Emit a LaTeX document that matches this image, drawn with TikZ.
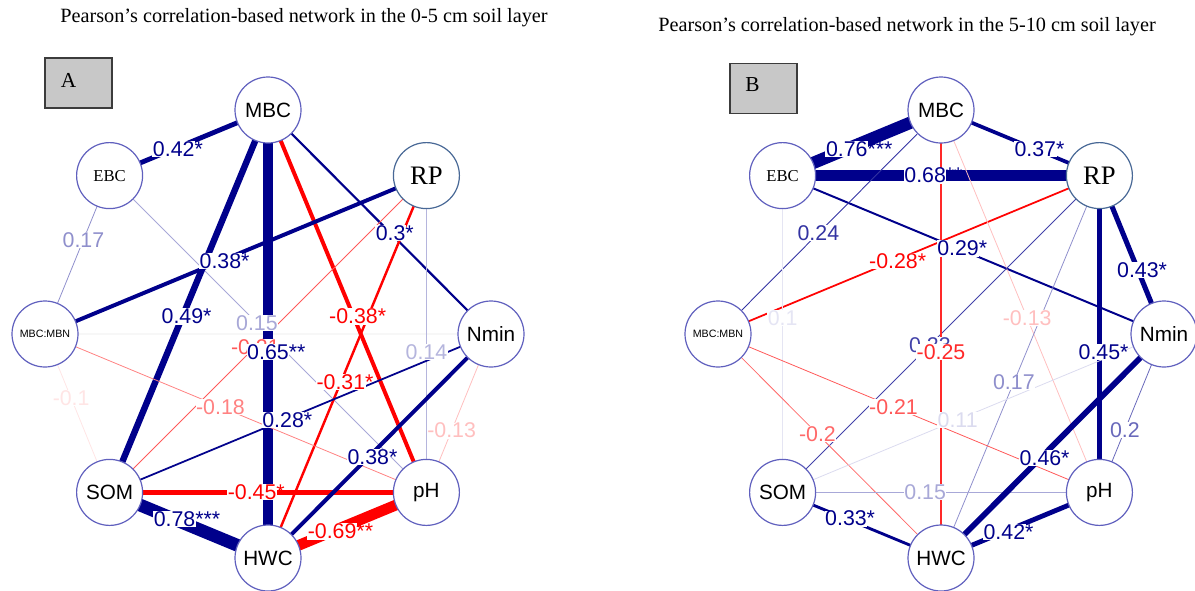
\documentclass[tikz,border=0pt]{standalone}
\usepackage{fontspec}
\setmainfont{Liberation Serif}
\newfontfamily\lsans{Liberation Sans}
\usetikzlibrary{calc}
\definecolor{posc}{RGB}{0,0,139}
\definecolor{negc}{RGB}{255,0,0}
\definecolor{nodeb}{RGB}{96,96,190}
\definecolor{rpb}{RGB}{72,104,150}
\definecolor{boxfill}{RGB}{200,200,200}
\definecolor{boxline}{RGB}{60,60,60}
\pgfdeclarelayer{edges}
\pgfdeclarelayer{labels}
\pgfsetlayers{edges,labels,main}
\tikzset{
  var/.style={circle, draw=nodeb, line width=0.9pt, fill=white, minimum size=49.5pt, inner sep=0pt, font=\lsans\fontsize{15.5}{15.5}\selectfont},
  ebcnode/.style={var, font=\fontsize{12.5}{12.5}\selectfont},
  rpnode/.style={var, draw=rpb, font=\fontsize{20}{20}\selectfont},
  mmnode/.style={var, font=\lsans\fontsize{8}{8}\selectfont},
  elabel/.style={fill=white, inner sep=0.4pt, font=\lsans\fontsize{16}{16}\selectfont},
  title/.style={font=\fontsize{15.2}{15.2}\selectfont, inner sep=0pt},
  panelbox/.style={draw=boxline, fill=boxfill, line width=0.8pt, minimum width=50.25pt, minimum height=37.5pt, inner sep=0pt},
  panelletter/.style={font=\fontsize{16}{16}\selectfont, inner sep=0pt},
}
\newcommand\edg[7]{%
  \pgfmathtruncatemacro\ea{min(100,max(8,100*(#3-0.08)/0.2))}%
  \pgfmathsetmacro\ew{0.75*max(0.8,22*(#3-0.2))}%
  \colorlet{ecol}{#4!\ea!white}%
  \begin{pgfonlayer}{edges}
    \draw[draw=ecol, line width=\ew pt] (#1.center) -- coordinate[pos=#7] (lab) (#2.center);
  \end{pgfonlayer}
  \begin{pgfonlayer}{labels}
    \node[elabel, text=ecol] at (lab) {#5\rlap{#6}};
  \end{pgfonlayer}}
\begin{document}
\begin{tikzpicture}[x=0.75pt, y=-0.75pt]
\useasboundingbox (0,0) rectangle (1195,590);
% titles and panel boxes
\node[title] (titleA) at (304,18) {Pearson’s correlation-based network in the 0-5 cm soil layer};
\node[title] (titleB) at (907,27) {Pearson’s correlation-based network in the 5-10 cm soil layer};
\node[panelbox] (boxA) at (78.5,83) {};
\node[panelletter] (letA) at (68.5,80) {A};
\node[panelbox] (boxB) at (763.5,88.5) {};
\node[panelletter] (letB) at (752.5,85) {B};
% panel A nodes
\node[var] (aMBC) at (268,110) {MBC};
\node[rpnode] (aRP) at (426.4,175.6) {RP};
\node[var] (aNmin) at (491,334) {Nmin};
\node[var] (apH) at (426.4,492.4) {pH};
\node[var] (aHWC) at (268,558) {HWC};
\node[var] (aSOM) at (109.6,492.4) {SOM};
\node[mmnode] (aMM) at (45,334) {MBC:MBN};
\node[ebcnode] (aEBC) at (109.6,175.6) {EBC};
% panel B nodes
\node[var] (bMBC) at (941,110) {MBC};
\node[rpnode] (bRP) at (1099.4,175.6) {RP};
\node[var] (bNmin) at (1164,334) {Nmin};
\node[var] (bpH) at (1099.4,492.4) {pH};
\node[var] (bHWC) at (941,558) {HWC};
\node[var] (bSOM) at (782.6,492.4) {SOM};
\node[mmnode] (bMM) at (718,334) {MBC:MBN};
\node[ebcnode] (bEBC) at (782.6,175.6) {EBC};
% panel A edges
\begin{pgfonlayer}{edges}
  \draw[draw=black!3, line width=2pt] (aMM.center) -- (aNmin.center);
\end{pgfonlayer}
\edg{aEBC}{aMBC}{0.42}{posc}{0.42}{*}{0.405}
\edg{aEBC}{aMM}{0.17}{posc}{0.17}{}{0.405}
\edg{aEBC}{apH}{0.15}{posc}{0.15}{}{0.465}
\edg{aMBC}{aSOM}{0.49}{posc}{0.49}{*}{0.54}
\edg{aMBC}{apH}{0.38}{negc}{-0.38}{*}{0.54}
\edg{aMBC}{aNmin}{0.30}{posc}{0.3}{*}{0.55}
\edg{aRP}{aMM}{0.38}{posc}{0.38}{*}{0.54}
\edg{aRP}{aHWC}{0.31}{negc}{-0.31}{*}{0.54}
\edg{aRP}{aSOM}{0.21}{negc}{-0.21}{}{0.54}
\edg{aRP}{apH}{0.14}{posc}{0.14}{}{0.557}
\edg{aMBC}{aHWC}{0.65}{posc}{0.65}{**}{0.54}
\edg{aMM}{aSOM}{0.10}{negc}{-0.1}{}{0.405}
\edg{aMM}{apH}{0.18}{negc}{-0.18}{}{0.46}
\edg{aSOM}{aNmin}{0.28}{posc}{0.28}{*}{0.455}
\edg{aSOM}{apH}{0.45}{negc}{-0.45}{*}{0.45}
\edg{aSOM}{aHWC}{0.78}{posc}{0.78}{***}{0.41}
\edg{aHWC}{aNmin}{0.38}{posc}{0.38}{*}{0.45}
\edg{aHWC}{apH}{0.69}{negc}{-0.69}{**}{0.405}
\edg{aNmin}{apH}{0.13}{negc}{-0.13}{}{0.61}
% panel B edges
\edg{bEBC}{bMBC}{0.76}{posc}{0.76}{***}{0.405}
\edg{bEBC}{bRP}{0.68}{posc}{0.68}{**}{0.45}
\edg{bMBC}{bRP}{0.37}{posc}{0.37}{*}{0.595}
\edg{bEBC}{bNmin}{0.29}{posc}{0.29}{*}{0.46}
\edg{bMBC}{bMM}{0.24}{posc}{0.24}{}{0.55}
\edg{bMM}{bRP}{0.28}{negc}{-0.28}{*}{0.46}
\edg{bEBC}{bSOM}{0.10}{posc}{0.1}{}{0.45}
\edg{bMBC}{bpH}{0.13}{negc}{-0.13}{}{0.544}
\edg{bRP}{bSOM}{0.23}{posc}{0.23}{}{0.535}
\edg{bMBC}{bHWC}{0.25}{negc}{-0.25}{}{0.54}
\edg{bRP}{bHWC}{0.17}{posc}{0.17}{}{0.54}
\edg{bRP}{bpH}{0.45}{posc}{0.45}{*}{0.557}
\edg{bRP}{bNmin}{0.43}{posc}{0.43}{*}{0.596}
\edg{bMM}{bpH}{0.21}{negc}{-0.21}{}{0.46}
\edg{bMM}{bHWC}{0.20}{negc}{-0.2}{}{0.446}
\edg{bSOM}{bNmin}{0.11}{posc}{0.11}{}{0.459}
\edg{bSOM}{bpH}{0.15}{posc}{0.15}{}{0.45}
\edg{bSOM}{bHWC}{0.33}{posc}{0.33}{*}{0.40}
\edg{bHWC}{bNmin}{0.46}{posc}{0.46}{*}{0.446}
\edg{bHWC}{bpH}{0.42}{posc}{0.42}{*}{0.40}
\edg{bNmin}{bpH}{0.20}{posc}{0.2}{}{0.606}
\end{tikzpicture}
\end{document}
